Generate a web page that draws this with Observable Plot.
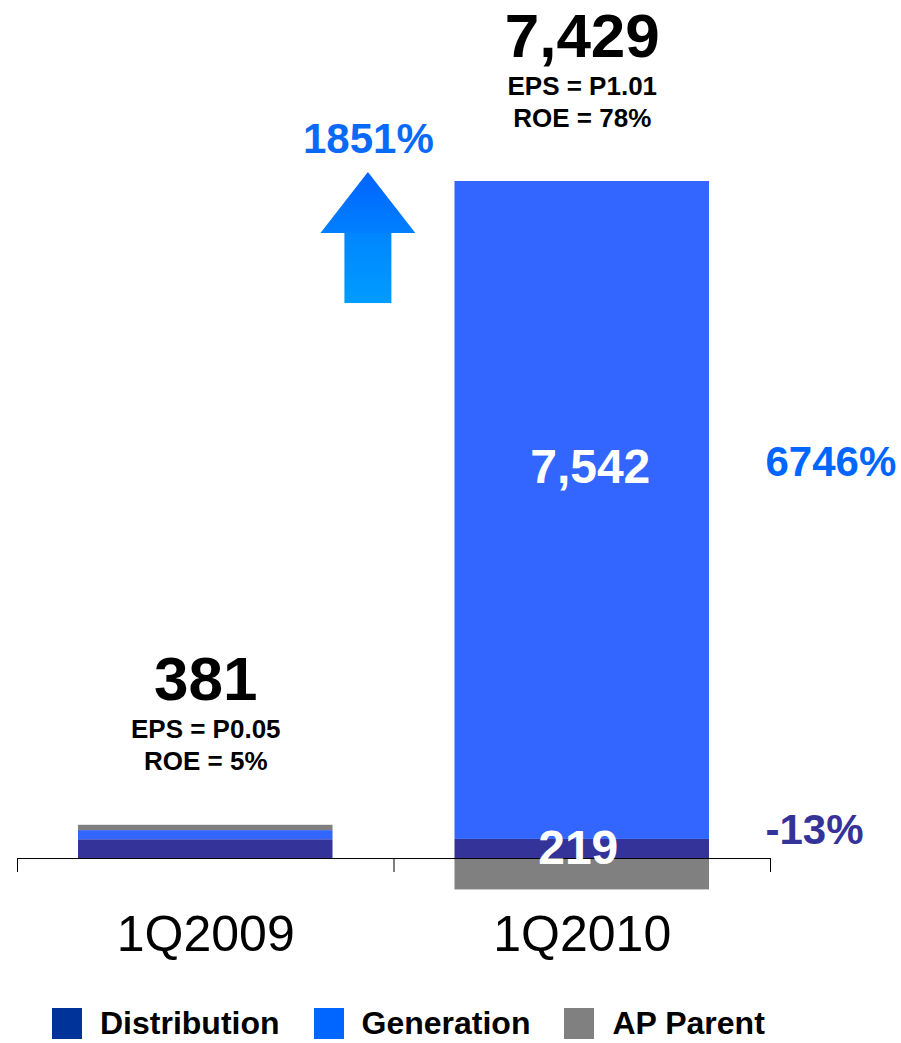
<!DOCTYPE html>
<html><head><meta charset="utf-8">
<script src="https://cdn.jsdelivr.net/npm/d3@7"></script>
<script src="https://cdn.jsdelivr.net/npm/@observablehq/plot@0.6"></script>
<style>
body{margin:0;background:#fff;font-family:"Liberation Sans",Arial,sans-serif;}
#legend{display:flex;align-items:center;height:31px;margin-top:18px;padding-left:52px;font-weight:bold;font-size:32px;color:#000;}
.item{display:flex;align-items:center;margin-right:34px;}
.sw{width:30px;height:31px;margin-right:18px;}
</style></head><body><div id="chart"></div><div id="legend"></div>
<script>
// ---- data ----
const quarters = ["1Q2009", "1Q2010"];
const series = ["Distribution", "Generation", "AP Parent"];
const distribution = [215, 219];
const generation = [105, 7542];
const apParent = [61, -360];
const totalLabels = ["381", "7,429"];
const epsLabels = ["EPS = P0.05", "EPS = P1.01"];
const roeLabels = ["ROE = 5%", "ROE = 78%"];
const generationGrowth = "6746%";
const distributionGrowth = "-13%";
const totalGrowth = "1851%";
const barColors = ["#333399", "#3366ff", "#808080"];
const legendColors = ["#003399", "#0066ff", "#808080"];
// arrow annotation (data units)
const arrowSpec = {x: 0.932, base: 6362, neck: 7165, tip: 7864, halfHead: 0.126, halfShaft: 0.0624};

// ---- stacking ----
const values = [distribution, generation, apParent];
const rows = [];
const tops = [];
quarters.forEach((q, i) => {
  let pos = 0, neg = 0;
  series.forEach((s, j) => {
    const v = values[j][i];
    let y1, y2;
    if (v >= 0) { y1 = pos; y2 = pos + v; pos = y2; } else { y1 = neg; y2 = neg + v; neg = y2; }
    rows.push({quarter: q, i, series: s, value: v, y1, y2, mid: (y1 + y2) / 2});
  });
  tops.push({i, top: pos, total: totalLabels[i], eps: epsLabels[i], roe: roeLabels[i]});
});
const last = quarters.length - 1;
const genLast = rows.filter(d => d.i === last && d.series === "Generation");
const distLast = rows.filter(d => d.i === last && d.series === "Distribution");

const headPts = [
  {x: arrowSpec.x - arrowSpec.halfHead, y1: arrowSpec.neck, y2: arrowSpec.neck},
  {x: arrowSpec.x, y1: arrowSpec.neck, y2: arrowSpec.tip},
  {x: arrowSpec.x + arrowSpec.halfHead, y1: arrowSpec.neck, y2: arrowSpec.neck}
];

const font = "Liberation Sans, Arial, sans-serif";
const chart = Plot.plot({
  width: 901, height: 990,
  marginLeft: 17, marginRight: 131, marginTop: 0, marginBottom: 0,
  style: {fontFamily: font, background: "#fff", overflow: "visible"},
  x: {domain: [0, quarters.length], axis: null},
  y: {domain: [-1513, 9836], axis: null},
  color: {domain: series, range: barColors},
  marks: [
    Plot.rect(rows, {x1: d => d.i, x2: d => d.i + 1, y1: "y1", y2: "y2", fill: "series", insetLeft: 61, insetRight: 61}),
    Plot.ruleY([0], {stroke: "#000", strokeWidth: 1}),
    Plot.ruleX(d3.range(quarters.length + 1), {y1: 0, y2: 0, insetBottom: -14, stroke: "#000", strokeWidth: 1}),
    Plot.text(quarters, {x: (d, i) => i + 0.5, y: 0, text: d => d, dy: 92, lineAnchor: "bottom", fontSize: 50, fill: "#000"}),
    Plot.text(tops, {x: d => d.i + 0.5, y: "top", text: "total", dy: -125, lineAnchor: "bottom", fontSize: 62, fontWeight: "bold", fill: "#000"}),
    Plot.text(tops, {x: d => d.i + 0.5, y: "top", text: "eps", dy: -87, lineAnchor: "bottom", fontSize: 26, fontWeight: "bold", fill: "#000"}),
    Plot.text(tops, {x: d => d.i + 0.5, y: "top", text: "roe", dy: -55, lineAnchor: "bottom", fontSize: 26, fontWeight: "bold", fill: "#000"}),
    Plot.text(genLast, {x: d => d.i + 0.5, y: "mid", text: d => d3.format(",")(d.value), dx: 8, dy: -43, fontSize: 48, fontWeight: "bold", fill: "#fff"}),
    Plot.text(distLast, {x: d => d.i + 0.5, y: "mid", text: d => d3.format(",")(d.value), dx: -4, fontSize: 48, fontWeight: "bold", fill: "#fff"}),
    Plot.text(genLast, {x: d => d.i + 1, y: "mid", text: () => generationGrowth, dx: -5, dy: -48, textAnchor: "start", fontSize: 42, fontWeight: "bold", fill: "#0066ff"}),
    Plot.text(distLast, {x: d => d.i + 1, y: "mid", text: () => distributionGrowth, dx: -5, dy: -18, textAnchor: "start", fontSize: 42, fontWeight: "bold", fill: "#333399"}),
    Plot.rect([arrowSpec], {x1: d => d.x - d.halfShaft, x2: d => d.x + d.halfShaft, y1: "base", y2: "neck", fill: "url(#shaftGrad)"}),
    Plot.areaY(headPts, {x: "x", y1: "y1", y2: "y2", fill: "url(#headGrad)", curve: "linear"}),
    Plot.text([arrowSpec], {x: "x", y: "tip", text: () => totalGrowth, dy: -20, lineAnchor: "bottom", fontSize: 42, fontWeight: "bold", fill: "#0a6af8"})
  ]
});

const defs = d3.select(chart).insert("defs", ":first-child");
function grad(id, c1, c2) {
  const g = defs.append("linearGradient").attr("id", id).attr("x1", 0).attr("y1", 0).attr("x2", 0).attr("y2", 1);
  g.append("stop").attr("offset", "0%").attr("stop-color", c1);
  g.append("stop").attr("offset", "100%").attr("stop-color", c2);
}
grad("headGrad", "#0063ff", "#0080ff");
grad("shaftGrad", "#0086ff", "#009cff");
document.getElementById("chart").appendChild(chart);

const legend = document.getElementById("legend");
series.forEach((s, j) => {
  const item = document.createElement("div");
  item.className = "item";
  const sw = document.createElement("div");
  sw.className = "sw";
  sw.style.background = legendColors[j];
  const label = document.createElement("span");
  label.textContent = s;
  item.appendChild(sw);
  item.appendChild(label);
  legend.appendChild(item);
});
</script></body></html>
